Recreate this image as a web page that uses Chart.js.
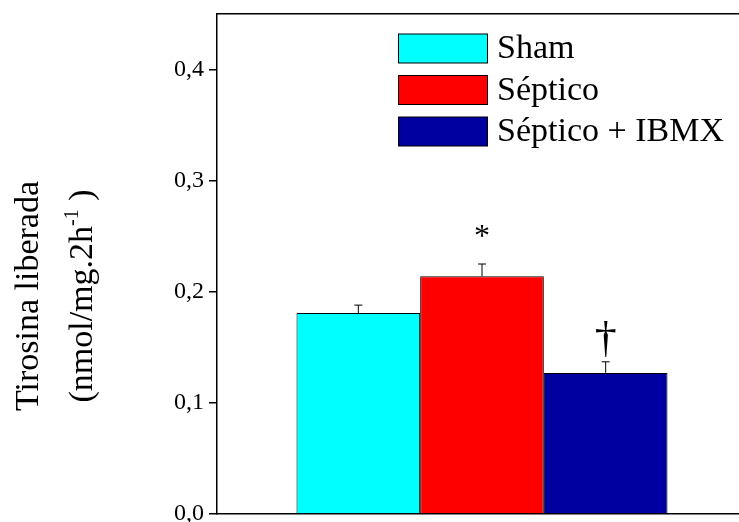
<!DOCTYPE html>
<html>
<head>
<meta charset="utf-8">
<script src="https://cdn.jsdelivr.net/npm/chart.js@4.4.1/dist/chart.umd.min.js"></script>
<style>
  html, body { margin: 0; padding: 0; background: #fff; overflow: hidden; }
  #wrap { width: 739px; height: 522px; overflow: hidden; }
</style>
</head>
<body>
<div id="wrap"><canvas id="myCanvas" width="760" height="522"></canvas></div>
<script>
// data
const groups = ['Sham', 'Séptico', 'Séptico + IBMX'];
const values = [0.181, 0.214, 0.127];
const errors = [0.007, 0.011, 0.010];
const marks = ['', '*', '†'];
const yTicks = [0, 0.1, 0.2, 0.3, 0.4];

const barColors = ['#00ffff', '#ff0000', '#0000a0'];
const serif = '"Liberation Serif", "Times New Roman", serif';

// error bars, significance marks, legend and y title
const extras = {
    id: 'extras',
    afterDatasetsDraw(chart) {
        const ctx = chart.ctx;
        const y = chart.scales.y;
        const area = chart.chartArea;
        ctx.save();
        ctx.strokeStyle = '#000';
        ctx.lineWidth = 1;
        chart.data.datasets.forEach((ds, i) => {
            const bar = chart.getDatasetMeta(i).data[0];
            const top = y.getPixelForValue(values[i]);
            const errTop = y.getPixelForValue(values[i] + errors[i]);
            ctx.beginPath();
            ctx.moveTo(bar.x, top);
            ctx.lineTo(bar.x, errTop);
            ctx.moveTo(bar.x - 4, errTop);
            ctx.lineTo(bar.x + 4, errTop);
            ctx.stroke();
            if (marks[i]) {
                ctx.fillStyle = '#000';
                ctx.textAlign = 'center';
                ctx.textBaseline = 'alphabetic';
                ctx.font = (marks[i] === '*' ? '32px ' : '44px ') + serif;
                const off = marks[i] === '*' ? 18 : 10;
                ctx.fillText(marks[i], bar.x, errTop - off);
            }
        });

        // legend
        ctx.font = '34px ' + serif;
        ctx.textBaseline = 'middle';
        ctx.textAlign = 'left';
        groups.forEach((g, i) => {
            const bx = area.left + 181;
            const cy = area.top + 34.5 + i * 41.5;
            ctx.fillStyle = barColors[i];
            ctx.fillRect(bx, cy - 14.5, 89, 29);
            ctx.strokeRect(bx + 0.5, cy - 14.5, 89, 29);
            ctx.fillStyle = '#000';
            ctx.fillText(g, bx + 99, cy + 1);
        });

        // y title (two lines, with superscript)
        ctx.translate(29, 296);
        ctx.rotate(-Math.PI / 2);
        ctx.textAlign = 'center';
        ctx.textBaseline = 'middle';
        ctx.font = '34px ' + serif;
        ctx.fillText('Tirosina liberada', 0, 0);
        const a = '(nmol/mg.2h', sup = '-1', b = ' )';
        const wa = ctx.measureText(a).width;
        const wb = ctx.measureText(b).width;
        ctx.font = '20px ' + serif;
        const ws = ctx.measureText(sup).width;
        const start = -(wa + ws + wb) / 2;
        ctx.textAlign = 'left';
        ctx.font = '34px ' + serif;
        ctx.fillText(a, start, 54);
        ctx.font = '20px ' + serif;
        ctx.fillText(sup, start + wa, 44);
        ctx.font = '34px ' + serif;
        ctx.fillText(b, start + wa + ws, 54);
        ctx.restore();
    }
};

function init() {
    const ctx = document.getElementById('myCanvas').getContext('2d');
    new Chart(ctx, {
        type: 'bar',
        data: {
            labels: [''],
            datasets: groups.map((g, i) => ({
                label: g,
                data: [values[i]],
                backgroundColor: barColors[i],
                borderColor: '#000',
                borderWidth: 1,
                borderSkipped: 'bottom',
                barPercentage: 1.0,
                categoryPercentage: 0.7
            }))
        },
        options: {
            responsive: false,
            animation: false,
            layout: { padding: { top: 14, right: 13, bottom: 8, left: 0 } },
            plugins: {
                legend: { display: false },
                tooltip: { enabled: false }
            },
            scales: {
                x: {
                    afterFit(scale) { scale.height = 0; scale.paddingLeft = 0; scale.paddingRight = 0; },
                    grid: { display: false },
                    ticks: { display: false },
                    border: { display: true, color: '#000', width: 1.5 }
                },
                x2: {
                    type: 'category',
                    labels: [''],
                    position: 'top',
                    afterFit(scale) { scale.height = 0; scale.paddingLeft = 0; scale.paddingRight = 0; },
                    grid: { display: false },
                    ticks: { display: false },
                    border: { display: true, color: '#000', width: 1.5 }
                },
                y: {
                    min: 0,
                    max: 0.45,
                    afterFit(scale) { scale.width = 217; scale.paddingTop = 0; scale.paddingBottom = 0; },
                    afterBuildTicks(scale) { scale.ticks = yTicks.map(v => ({ value: v })); },
                    ticks: {
                        color: '#000',
                        padding: 5,
                        font: { family: serif, size: 24 },
                        callback: v => v.toFixed(1).replace('.', ',')
                    },
                    grid: { drawOnChartArea: false, drawTicks: true, tickLength: 8, color: '#000', lineWidth: 1.5 },
                    border: { display: true, color: '#000', width: 1.5 }
                }
            }
        },
        plugins: [extras]
    });
}

document.addEventListener('DOMContentLoaded', init);
</script>
</body>
</html>
